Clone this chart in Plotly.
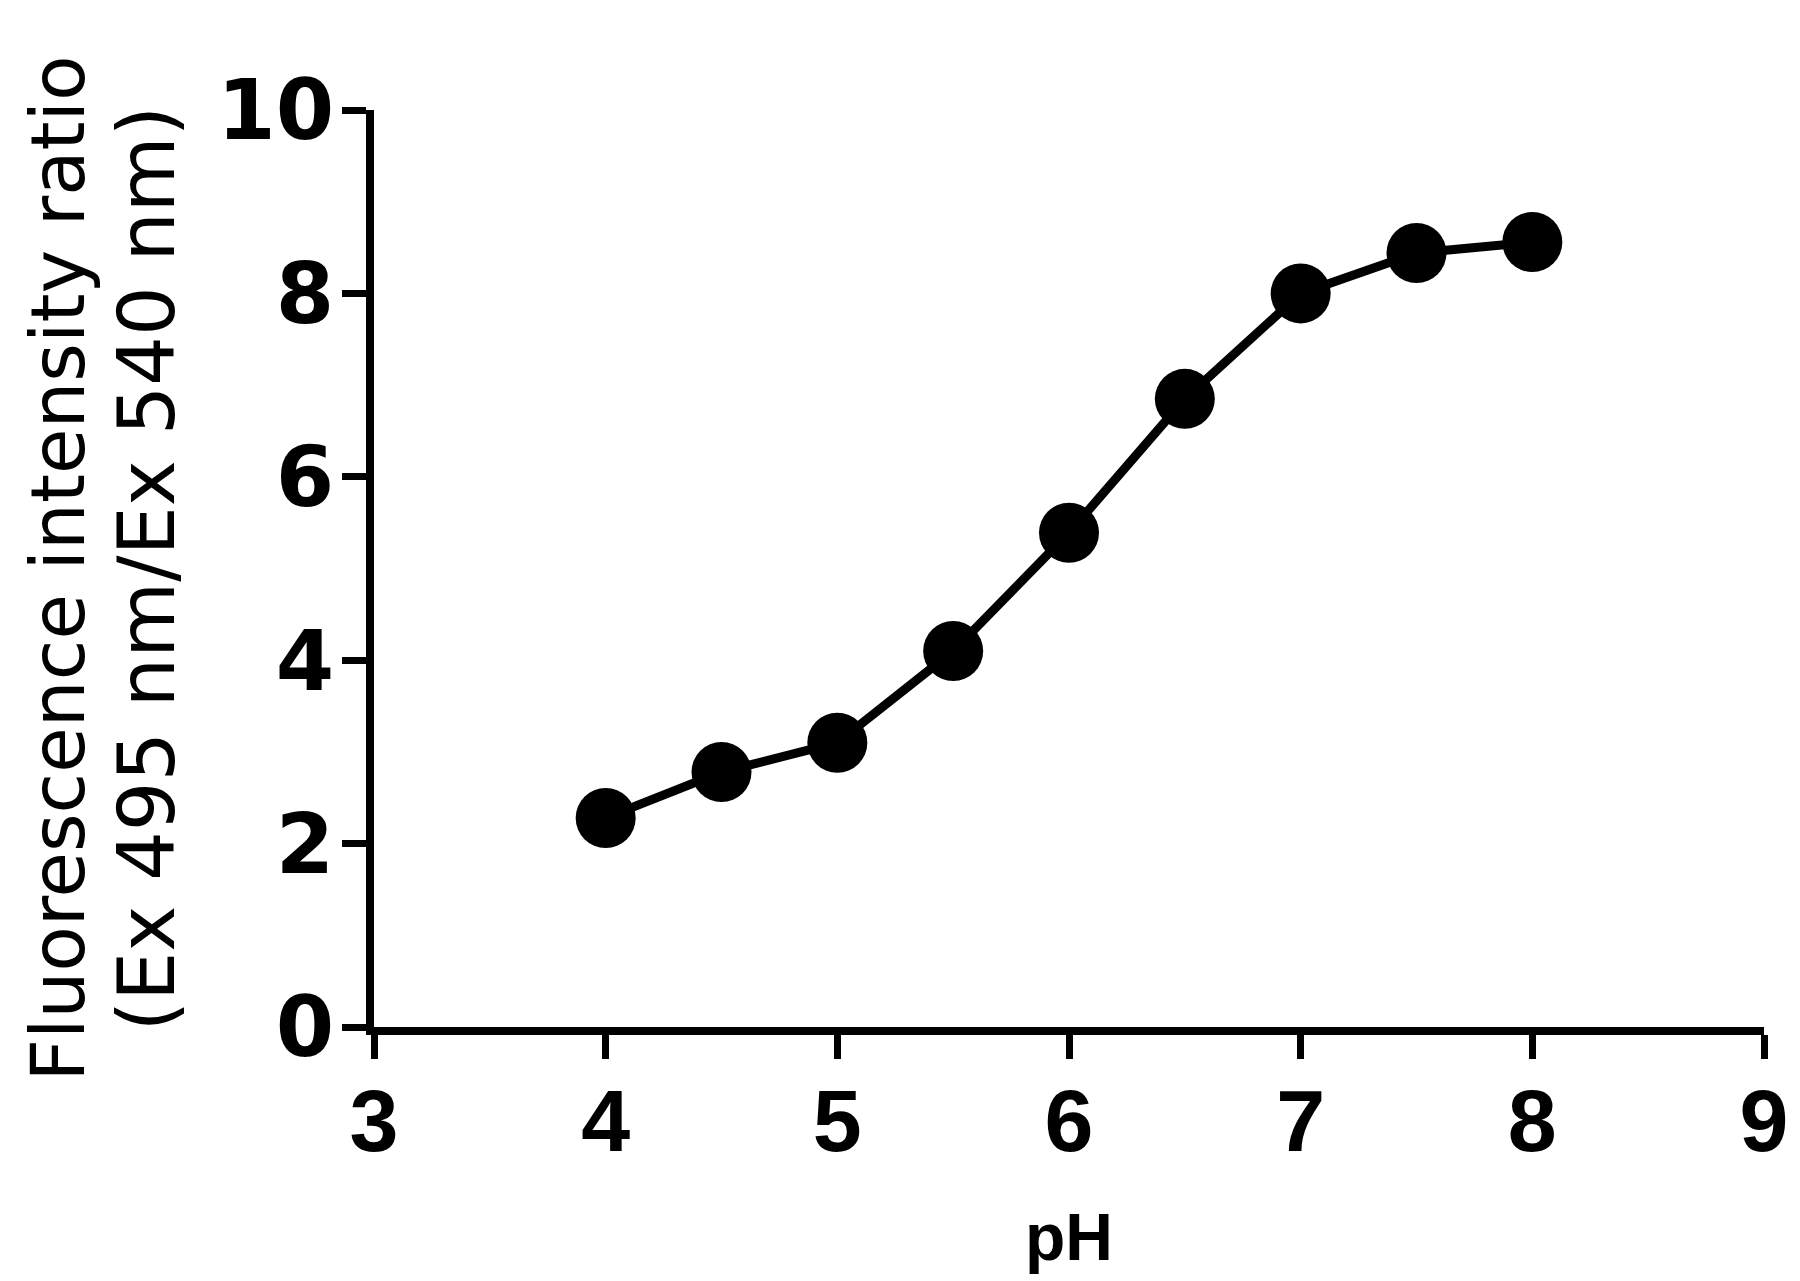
import plotly.graph_objects as go

ph = [4.0, 4.5, 5.0, 5.5, 6.0, 6.5, 7.0, 7.5, 8.0]
ratio = [2.28, 2.78, 3.10, 4.10, 5.39, 6.85, 8.00, 8.44, 8.56]

x_ticks = [3, 4, 5, 6, 7, 8, 9]
y_ticks = [0, 2, 4, 6, 8, 10]

y_title_1 = "Fluorescence intensity ratio"
y_title_2 = "(Ex 495 nm/Ex 540 nm)"
x_title = "pH"

fig = go.Figure()
fig.add_trace(go.Scatter(
    x=ph, y=ratio, mode="lines+markers",
    line=dict(color="black", width=9),
    marker=dict(color="black", size=60),
    showlegend=False, cliponaxis=False,
))

fig.update_layout(
    width=1800, height=1281,
    paper_bgcolor="white", plot_bgcolor="white",
    margin=dict(l=366, r=44, t=102, b=262),
    xaxis=dict(
        range=[3, 9], tickvals=x_ticks, ticktext=[str(v) for v in x_ticks],
        showgrid=False, zeroline=False,
        showline=True, linecolor="black", linewidth=8,
        ticks="outside", ticklen=24, tickwidth=7, tickcolor="black",
        tickfont=dict(family="Liberation Sans", size=88, color="black", weight="bold"),
        ticklabelstandoff=-14,
        title=dict(text="<b>" + x_title + "</b>",
                   font=dict(family="Liberation Sans", size=66, color="black"),
                   standoff=48),
    ),
    yaxis=dict(
        range=[0, 10], tickvals=y_ticks, ticktext=[str(v) for v in y_ticks],
        showgrid=False, zeroline=False,
        showline=True, linecolor="black", linewidth=8,
        ticks="outside", ticklen=24, tickwidth=7, tickcolor="black",
        tickfont=dict(family="DejaVu Sans", size=84, color="black", weight="bold"),
        ticklabelstandoff=-9,
    ),
)

fig.add_annotation(
    text=y_title_1, xref="paper", yref="paper",
    x=-0.228, y=0.5, textangle=-90, showarrow=False,
    xanchor="center", yanchor="middle",
    font=dict(family="DejaVu Sans", size=74, color="black"),
)
fig.add_annotation(
    text=y_title_2, xref="paper", yref="paper",
    x=-0.164, y=0.5, textangle=-90, showarrow=False,
    xanchor="center", yanchor="middle",
    font=dict(family="DejaVu Sans", size=78, color="black"),
)

fig.write_html("out.html")
